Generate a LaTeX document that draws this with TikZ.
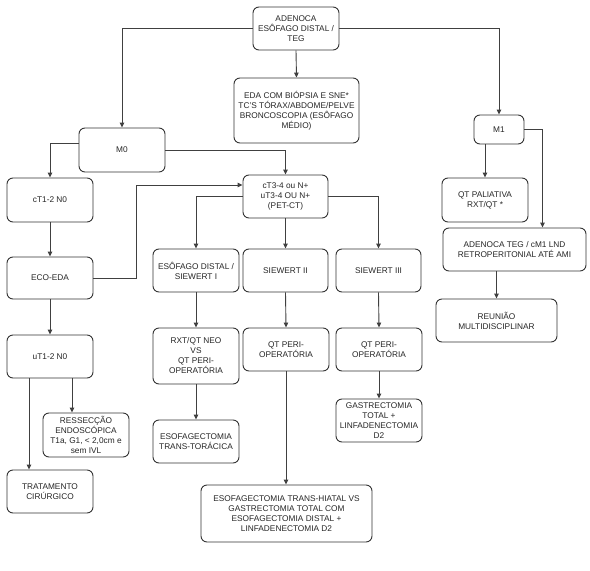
\documentclass[tikz,border=0pt]{standalone}
\usepackage{fontspec}
\setmainfont{Liberation Sans}
\usetikzlibrary{arrows.meta}
\begin{document}
\begin{tikzpicture}[x=1pt,y=-1pt,
  box/.style={draw=black!80, line width=0.9pt, rounded corners=6pt, align=center,
    inner sep=1pt, font=\fontsize{8.3}{10}\selectfont, text=black!85},
  arr/.style={draw=black!75, line width=0.9pt, -{Triangle[length=5pt,width=4.5pt]}}]
\useasboundingbox[fill=white] (0,0) rectangle (590,571);
% boxes: centre, width, height
\node[box, minimum width=86, minimum height=43] (A) at (296,28.5) {ADENOCA\\ESÔFAGO DISTAL /\\TEG};
\node[box, minimum width=125, minimum height=65] (EDA) at (296.5,110.5) {EDA COM BIÓPSIA E SNE*\\TC'S TÓRAX/ABDOME/PELVE\\BRONCOSCOPIA (ESÔFAGO\\MÉDIO)};
\node[box, minimum width=86, minimum height=44] (M0) at (122,150) {M0};
\node[box, minimum width=50, minimum height=29] (M1) at (499,129.5) {M1};
\node[box, minimum width=86, minimum height=44] (CT12) at (50,200) {cT1-2 N0};
\node[box, minimum width=86, minimum height=42] (ECO) at (50,278) {ECO-EDA};
\node[box, minimum width=86, minimum height=43] (UT12) at (50,356.5) {uT1-2 N0};
\node[box, minimum width=85, minimum height=43] (CT34) at (285.5,196.5) {cT3-4 ou N+\\uT3-4 OU N+\\(PET-CT)};
\node[box, minimum width=86, minimum height=43] (S1) at (196,270.5) {ESÔFAGO DISTAL /\\SIEWERT I};
\node[box, minimum width=85, minimum height=43] (S2) at (285.5,270.5) {SIEWERT II};
\node[box, minimum width=85, minimum height=43] (S3) at (378.5,270.5) {SIEWERT III};
\node[box, minimum width=86, minimum height=44] (QTP) at (485,200) {QT PALIATIVA\\RXT/QT *};
\node[box, minimum width=143, minimum height=43] (AT) at (514.5,249.5) {ADENOCA TEG / cM1 LND\\RETROPERITONIAL ATÉ AMI};
\node[box, minimum width=121, minimum height=43] (REU) at (496.5,320.5) {REUNIÃO\\MULTIDISCIPLINAR};
\node[box, minimum width=86, minimum height=56] (RXT) at (196,356) {RXT/QT NEO\\VS\\QT PERI-\\OPERATÓRIA};
\node[box, minimum width=86, minimum height=43] (QP2) at (286,349.5) {QT PERI-\\OPERATÓRIA};
\node[box, minimum width=86, minimum height=43] (QP3) at (379,349.5) {QT PERI-\\OPERATÓRIA};
\node[box, minimum width=86, minimum height=44] (RES) at (86,435) {RESSECÇÃO\\ENDOSCÓPICA\\T1a, G1, < 2,0cm e\\sem IVL};
\node[box, minimum width=86, minimum height=43] (ETT) at (196,441.5) {ESOFAGECTOMIA\\TRANS-TORÁCICA};
\node[box, minimum width=86, minimum height=43] (GT) at (379,420.5) {GASTRECTOMIA\\TOTAL +\\LINFADENECTOMIA\\D2};
\node[box, minimum width=86, minimum height=43] (TRAT) at (50,491.5) {TRATAMENTO\\CIRÚRGICO};
\node[box, minimum width=171, minimum height=57] (ETH) at (286.5,513.5) {ESOFAGECTOMIA TRANS-HIATAL VS\\GASTRECTOMIA TOTAL COM\\ESOFAGECTOMIA DISTAL +\\LINFADENECTOMIA D2};
% connectors
\draw[arr] (A.west) -| (M0.north);
\draw[arr] (A.south) -- (EDA.north);
\draw[arr] (A.east) -| (M1.north);
\draw[arr] ([yshift=7pt]M0.west) -| (CT12.north);
\draw[arr] (M0.east) -| (CT34.north);
\draw[arr] (M1.south -| QTP.north) -- (QTP.north);
\draw[arr] (M1.east) -| ([xshift=28pt]AT.north);
\draw[arr] (AT.south -| REU.north) -- (REU.north);
\draw[arr] (CT12.south) -- (ECO.north);
\draw[arr] (ECO.south) -- (UT12.north);
\draw[arr] (ECO.east) -- ++(43,0) |- ([yshift=11.5pt]CT34.west);
\draw[arr] (CT34.west) -| (S1.north);
\draw[arr] (CT34.south) -- (S2.north);
\draw[arr] (CT34.east) -| (S3.north);
\draw[arr] (S1.south) -- (RXT.north);
\draw[arr] (RXT.south) -- (ETT.north);
\draw[arr] (S2.south) -- (QP2.north);
\draw[arr] (QP2.south) -- (ETH.north -| QP2.south);
\draw[arr] (S3.south) -- (QP3.north);
\draw[arr] (QP3.south) -- (GT.north);
\draw[arr] ([xshift=-21pt]UT12.south) -- ([xshift=-21pt]TRAT.north);
\draw[arr] ([xshift=22pt]UT12.south) -- ([xshift=22pt]UT12.south |- RES.north);
\end{tikzpicture}
\end{document}
